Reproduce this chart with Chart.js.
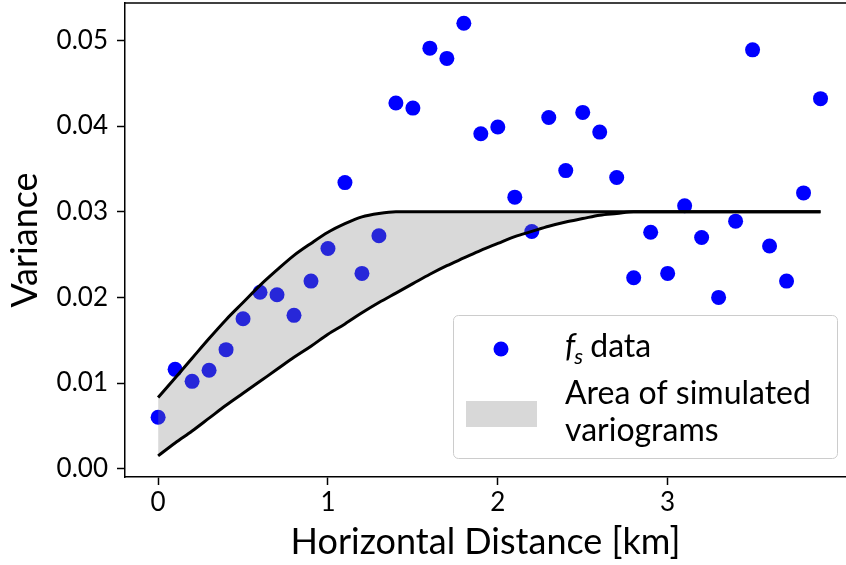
<!DOCTYPE html>
<html>
<head>
<meta charset="utf-8">
<script src="https://cdn.jsdelivr.net/npm/chart.js@4.4.1/dist/chart.umd.min.js"></script>
<style>
	html, body { margin: 0; padding: 0; background: #fff; overflow: hidden; }
	#wrap { width: 846px; height: 565px; }
</style>
</head>
<body>
<div id="wrap"><canvas id="variogramChart" width="846" height="565"></canvas></div>
<script>
// lag distances [km]
const xDist = [0, 0.1, 0.2, 0.3, 0.4, 0.5, 0.6, 0.7, 0.8, 0.9,
	1.0, 1.1, 1.2, 1.3, 1.4, 1.5, 1.6, 1.7, 1.8, 1.9,
	2.0, 2.1, 2.2, 2.3, 2.4, 2.5, 2.6, 2.7, 2.8, 2.9,
	3.0, 3.1, 3.2, 3.3, 3.4, 3.5, 3.6, 3.7, 3.8, 3.9];

// experimental variance (f_s data)
const fsVariance = [0.0060, 0.0116, 0.0102, 0.0115, 0.0139, 0.0175, 0.0206, 0.0203, 0.0179, 0.0219,
	0.0257, 0.0334, 0.0228, 0.0272, 0.0427, 0.0421, 0.0491, 0.0479, 0.0520, 0.0391,
	0.0399, 0.0317, 0.0277, 0.0410, 0.0348, 0.0416, 0.0393, 0.0340, 0.0223, 0.0276,
	0.0228, 0.0307, 0.0270, 0.0200, 0.0289, 0.0489, 0.0260, 0.0219, 0.0322, 0.0432];

// envelope of simulated variograms
const upperVariance = [0.0083, 0.0106, 0.0129, 0.0152, 0.0174, 0.0194, 0.0214, 0.0232, 0.0249, 0.0263,
	0.0276, 0.0286, 0.0294, 0.0298, 0.0300, 0.0300, 0.0300, 0.0300, 0.0300, 0.0300,
	0.0300, 0.0300, 0.0300, 0.0300, 0.0300, 0.0300, 0.0300, 0.0300, 0.0300, 0.0300,
	0.0300, 0.0300, 0.0300, 0.0300, 0.0300, 0.0300, 0.0300, 0.0300, 0.0300, 0.0300];
const lowerVariance = [0.0015, 0.0030, 0.0044, 0.0059, 0.0074, 0.0088, 0.0102, 0.0116, 0.0130, 0.0143,
	0.0157, 0.0169, 0.0182, 0.0194, 0.0205, 0.0216, 0.0227, 0.0237, 0.0246, 0.0255,
	0.0263, 0.0271, 0.0277, 0.0283, 0.0288, 0.0292, 0.0296, 0.0298, 0.0300, 0.0300,
	0.0300, 0.0300, 0.0300, 0.0300, 0.0300, 0.0300, 0.0300, 0.0300, 0.0300, 0.0300];

const xTicks = [0, 1, 2, 3];
const yTicks = [0.00, 0.01, 0.02, 0.03, 0.04, 0.05];

const FONT = "Lato, 'DejaVu Sans', sans-serif";

function toPoints(ys) {
	return xDist.map((x, i) => ({ x: x, y: ys[i] }));
}

function noPadding(scale) {
	scale.paddingTop = 0;
	scale.paddingBottom = 0;
	scale.paddingLeft = 0;
	scale.paddingRight = 0;
}

// top spine + legend box drawn by hand
const frameAndLegend = {
	id: 'frameAndLegend',
	afterDraw(chart) {
		const ctx = chart.ctx;
		const area = chart.chartArea;

		ctx.save();
		ctx.strokeStyle = '#000';
		ctx.lineWidth = 1.5;
		ctx.beginPath();
		ctx.moveTo(area.left, area.top);
		ctx.lineTo(area.right, area.top);
		ctx.stroke();

		// legend
		ctx.beginPath();
		ctx.roundRect(453.5, 315.5, 384, 143, 5);
		ctx.fillStyle = 'rgba(255,255,255,0.8)';
		ctx.fill();
		ctx.strokeStyle = '#cccccc';
		ctx.lineWidth = 1;
		ctx.stroke();

		ctx.fillStyle = '#0000ff';
		ctx.beginPath();
		ctx.arc(501, 349, 7.5, 0, Math.PI * 2);
		ctx.fill();

		ctx.fillStyle = '#d8d8d8';
		ctx.fillRect(466, 401, 71, 26);

		ctx.fillStyle = '#000';
		ctx.textBaseline = 'alphabetic';
		ctx.textAlign = 'left';
		ctx.font = 'italic 32px ' + FONT;
		ctx.fillText('f', 565, 357);
		var fw = ctx.measureText('f').width;
		ctx.font = 'italic 22px ' + FONT;
		ctx.fillText('s', 565 + fw - 1, 364);
		var sw = ctx.measureText('s').width;
		ctx.font = '32px ' + FONT;
		ctx.fillText(' data', 565 + fw + sw - 2, 357);

		ctx.fillText('Area of simulated', 565, 404);
		ctx.fillText('variograms', 565, 441);
		ctx.restore();
	}
};

const ctx = document.getElementById('variogramChart').getContext('2d');
const variogramChart = new Chart(ctx, {
	type: 'scatter',
	data: {
		datasets: [{
			label: 'fs data',
			data: toPoints(fsVariance),
			backgroundColor: '#0000ff',
			borderWidth: 0,
			pointRadius: 7.5,
			order: 3,
		}, {
			label: 'upper',
			data: toPoints(upperVariance),
			showLine: true,
			borderColor: '#000',
			borderWidth: 3,
			pointRadius: 0,
			cubicInterpolationMode: 'monotone',
			fill: { target: '+1' },
			backgroundColor: 'rgba(128,128,128,0.3)',
			order: 2,
		}, {
			label: 'lower',
			data: toPoints(lowerVariance),
			showLine: true,
			borderColor: '#000',
			borderWidth: 3,
			pointRadius: 0,
			cubicInterpolationMode: 'monotone',
			fill: false,
			order: 1,
		}],
	},
	options: {
		responsive: false,
		animation: false,
		layout: { autoPadding: false, padding: { top: 3, right: 0, left: 0, bottom: 0 } },
		plugins: {
			legend: { display: false },
			tooltip: { enabled: false },
		},
		scales: {
			x: {
				type: 'linear',
				min: -0.195,
				max: 4.05,
				afterBuildTicks: (scale) => { scale.ticks = xTicks.map(v => ({ value: v })); },
				afterFit: (scale) => { scale.height = 88; noPadding(scale); },
				border: { display: true, color: '#000', width: 1.5 },
				grid: { drawOnChartArea: false, drawTicks: true, tickLength: 8, color: '#000', tickWidth: 1.5 },
				ticks: { color: '#000', font: { family: FONT, size: 26 }, padding: 2, maxRotation: 0 },
				title: {
					display: true,
					text: 'Horizontal Distance [km]',
					color: '#000',
					font: { family: FONT, size: 36 },
					padding: { top: 0, bottom: 1 },
				},
			},
			y: {
				type: 'linear',
				min: -0.00097,
				max: 0.05437,
				afterBuildTicks: (scale) => { scale.ticks = yTicks.map(v => ({ value: v })); },
				afterFit: (scale) => { scale.width = 125; noPadding(scale); },
				border: { display: true, color: '#000', width: 1.5 },
				grid: { drawOnChartArea: false, drawTicks: true, tickLength: 8, color: '#000', tickWidth: 1.5 },
				ticks: {
					color: '#000',
					font: { family: FONT, size: 26 },
					padding: 9,
					callback: (v) => v.toFixed(2),
				},
				title: {
					display: true,
					text: 'Variance',
					color: '#000',
					font: { family: FONT, size: 36 },
					padding: { top: 4, bottom: 0 },
				},
			},
		},
	},
	plugins: [frameAndLegend],
});
</script>
</body>
</html>
